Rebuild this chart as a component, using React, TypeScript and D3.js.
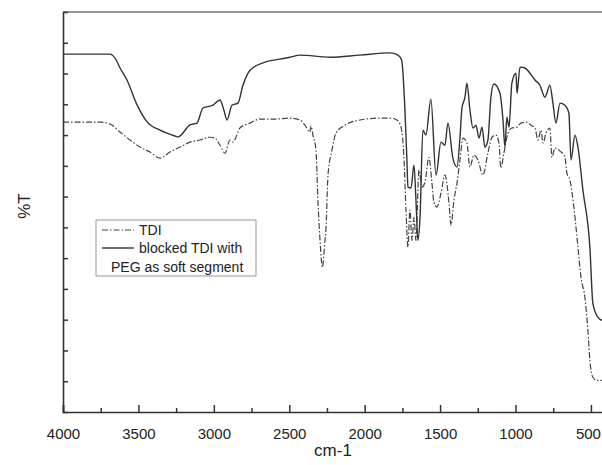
import React, { useEffect, useRef } from "react";
import * as d3 from "d3";

// wavenumber (cm-1) / transmittance (arbitrary units)
const tdiWave = [4000, 3755, 3688, 3622, 3556, 3490, 3423, 3357, 3291, 3224, 3158, 3092, 3026, 2992, 2959, 2926, 2893, 2873, 2827, 2760, 2694, 2595, 2495, 2429, 2396, 2363, 2356, 2343, 2323, 2310, 2296, 2280, 2263, 2257, 2243, 2217, 2190, 2131, 2031, 1899, 1832, 1786, 1759, 1739, 1726, 1713, 1700, 1686, 1673, 1660, 1640, 1620, 1600, 1574, 1554, 1541, 1521, 1494, 1468, 1441, 1428, 1408, 1388, 1368, 1348, 1322, 1302, 1276, 1249, 1216, 1183, 1156, 1130, 1110, 1097, 1077, 1050, 1024, 990, 964, 924, 898, 871, 851, 831, 818, 798, 772, 758, 739, 705, 672, 659, 639, 613, 586, 566, 540, 520, 507, 487, 460, 427, 400];
const tdiT = [94.2, 94.2, 93.6, 91.0, 88.4, 86.1, 84.5, 82.5, 84.5, 86.1, 87.7, 88.4, 89.3, 89.0, 86.7, 84.1, 88.4, 87.7, 92.3, 93.9, 95.2, 95.2, 95.5, 94.9, 93.2, 91.0, 93.0, 90.0, 85.1, 68.8, 55.8, 47.0, 55.8, 59.1, 77.0, 85.1, 90.7, 93.2, 94.9, 95.5, 95.5, 94.9, 92.6, 81.9, 65.6, 53.6, 65.6, 55.8, 63.3, 55.8, 78.6, 73.1, 74.7, 82.8, 74.4, 68.2, 66.6, 71.1, 77.0, 67.9, 60.7, 68.9, 74.4, 81.9, 89.0, 87.4, 79.6, 83.5, 81.9, 77.0, 84.1, 89.3, 90.0, 87.4, 79.3, 84.1, 90.6, 92.3, 92.6, 93.9, 94.2, 93.2, 92.3, 88.4, 91.6, 87.4, 90.6, 92.3, 82.8, 85.8, 84.8, 82.8, 77.6, 75.3, 66.6, 53.6, 43.8, 37.3, 26.6, 16.8, 11.3, 10.3, 10.3, 10.3];

const pegWave = [4000, 3688, 3655, 3622, 3576, 3509, 3443, 3357, 3258, 3238, 3158, 3112, 3072, 3006, 2959, 2933, 2913, 2880, 2840, 2807, 2760, 2661, 2562, 2495, 2429, 2230, 2031, 1832, 1779, 1755, 1733, 1720, 1713, 1693, 1673, 1660, 1647, 1633, 1614, 1594, 1561, 1527, 1494, 1468, 1448, 1415, 1388, 1368, 1355, 1335, 1322, 1302, 1282, 1262, 1242, 1222, 1203, 1183, 1163, 1143, 1103, 1083, 1070, 1057, 1043, 1024, 997, 990, 970, 937, 904, 871, 838, 805, 772, 752, 732, 705, 672, 646, 632, 606, 586, 553, 507, 487, 454, 427, 400];
const pegT = [116.3, 116.3, 115.0, 111.8, 107.9, 99.8, 94.3, 91.6, 89.7, 89.4, 93.3, 93.9, 98.8, 99.7, 101.4, 98.1, 94.9, 99.7, 100.4, 106.2, 111.1, 113.7, 114.7, 115.3, 116.0, 115.3, 116.0, 116.7, 116.0, 114.4, 98.1, 81.9, 73.1, 72.8, 80.2, 68.9, 55.8, 63.3, 91.6, 90.0, 101.7, 77.0, 87.7, 86.7, 93.9, 82.5, 79.6, 89.3, 98.8, 102.3, 106.9, 98.1, 92.3, 93.2, 89.0, 92.6, 86.1, 88.4, 102.3, 106.6, 103.6, 94.9, 86.1, 95.8, 92.6, 106.9, 110.1, 103.6, 112.1, 111.8, 110.1, 107.9, 106.2, 102.3, 106.2, 100.4, 93.9, 100.4, 99.7, 97.1, 81.9, 90.0, 86.1, 72.1, 53.6, 35.3, 30.8, 29.8, 29.7];

const xMajorTicks = [4000, 3500, 3000, 2500, 2000, 1500, 1000, 500];
const xMinorTicks = [3750, 3250, 2750, 2250, 1750, 1250, 750];
const yTicks = [10, 20, 30, 40, 50, 60, 70, 80, 90, 100, 110, 120];

const seriesNames = ["TDI", "blocked TDI with", "PEG as soft segment"];

const W = 602;
const H = 465;
const margin = { left: 63, top: 12, bottom: 53 };
const font = "Arial, 'Liberation Sans', sans-serif";
const ink = "#333";

export default function App() {
  const svgRef = useRef<SVGSVGElement>(null);

  useEffect(() => {
    const svg = d3.select(svgRef.current);
    svg.selectAll("*").remove();

    const x = d3.scaleLinear().domain([4000, 400]).range([margin.left, 606]);
    const y = d3.scaleLinear().domain([0, 130]).range([H - margin.bottom, margin.top]);

    const line = d3
      .line<[number, number]>()
      .x((d) => x(d[0]))
      .y((d) => y(d[1]))
      .curve(d3.curveMonotoneX);

    const g = svg.append("g");

    // curves
    g.append("path")
      .datum(d3.zip(tdiWave, tdiT) as [number, number][])
      .attr("d", line)
      .attr("fill", "none")
      .attr("stroke", "#444")
      .attr("stroke-width", 1.2)
      .attr("stroke-dasharray", "6 2 1.5 2");

    g.append("path")
      .datum(d3.zip(pegWave, pegT) as [number, number][])
      .attr("d", line)
      .attr("fill", "none")
      .attr("stroke", ink)
      .attr("stroke-width", 1.4);

    // frame
    const y0 = y(0);
    g.append("line")
      .attr("x1", margin.left).attr("x2", W)
      .attr("y1", y(130)).attr("y2", y(130))
      .attr("stroke", ink).attr("stroke-width", 1.2);

    const xAxis = d3
      .axisBottom(x)
      .tickValues(xMajorTicks)
      .tickSize(-7)
      .tickPadding(16)
      .tickFormat(d3.format("d"));
    const xa = g.append("g").attr("transform", `translate(0,${y0})`).call(xAxis);
    xa.select(".domain").attr("stroke", ink).attr("stroke-width", 1.6);
    xa.selectAll(".tick line").attr("stroke", ink).attr("stroke-width", 1.5);
    xa.selectAll("text").attr("font-family", font).attr("font-size", 15).attr("fill", "#222");
    // keep the last label inside the page edge
    xa.selectAll<SVGTextElement, number>("text").filter((d) => d === 500).attr("dx", -3);

    const xMinor = d3.axisBottom(x).tickValues(xMinorTicks).tickSize(-4).tickFormat(() => "");
    const xm = g.append("g").attr("transform", `translate(0,${y0})`).call(xMinor);
    xm.select(".domain").remove();
    xm.selectAll(".tick line").attr("stroke", ink).attr("stroke-width", 1.5);

    const yAxis = d3.axisLeft(y).tickValues(yTicks).tickSize(-5).tickFormat(() => "");
    const ya = g.append("g").attr("transform", `translate(${margin.left},0)`).call(yAxis);
    ya.select(".domain").attr("stroke", ink).attr("stroke-width", 1.6);
    ya.selectAll(".tick line").attr("stroke", ink).attr("stroke-width", 1.5);

    // axis titles
    g.append("text")
      .attr("x", 333).attr("y", 456)
      .attr("text-anchor", "middle")
      .attr("font-family", font).attr("font-size", 17).attr("fill", "#222")
      .text("cm-1");
    g.append("text")
      .attr("transform", "translate(30,206) rotate(-90)")
      .attr("text-anchor", "middle")
      .attr("font-family", font).attr("font-size", 17).attr("fill", "#222")
      .text("%T");

    // legend
    const lg = g.append("g");
    lg.append("rect")
      .attr("x", 96).attr("y", 220).attr("width", 160).attr("height", 56)
      .attr("fill", "white").attr("stroke", "#999").attr("stroke-width", 1);
    lg.append("line")
      .attr("x1", 102).attr("x2", 134).attr("y1", 230).attr("y2", 230)
      .attr("stroke", "#444").attr("stroke-width", 1.2).attr("stroke-dasharray", "6 2 1.5 2");
    lg.append("line")
      .attr("x1", 102).attr("x2", 134).attr("y1", 248).attr("y2", 248)
      .attr("stroke", ink).attr("stroke-width", 1.4);
    const rows = [
      { tx: 139, ty: 235 },
      { tx: 139, ty: 253 },
      { tx: 111, ty: 272 },
    ];
    lg.selectAll("text.lab")
      .data(seriesNames)
      .join("text")
      .attr("class", "lab")
      .attr("x", (d, i) => rows[i].tx)
      .attr("y", (d, i) => rows[i].ty)
      .attr("font-family", font).attr("font-size", 14).attr("fill", "#222")
      .text((d) => d);
  }, []);

  return (
    <svg ref={svgRef} width={W} height={H} style={{ display: "block", position: "absolute", left: 0, top: 0 }} />
  );
}
